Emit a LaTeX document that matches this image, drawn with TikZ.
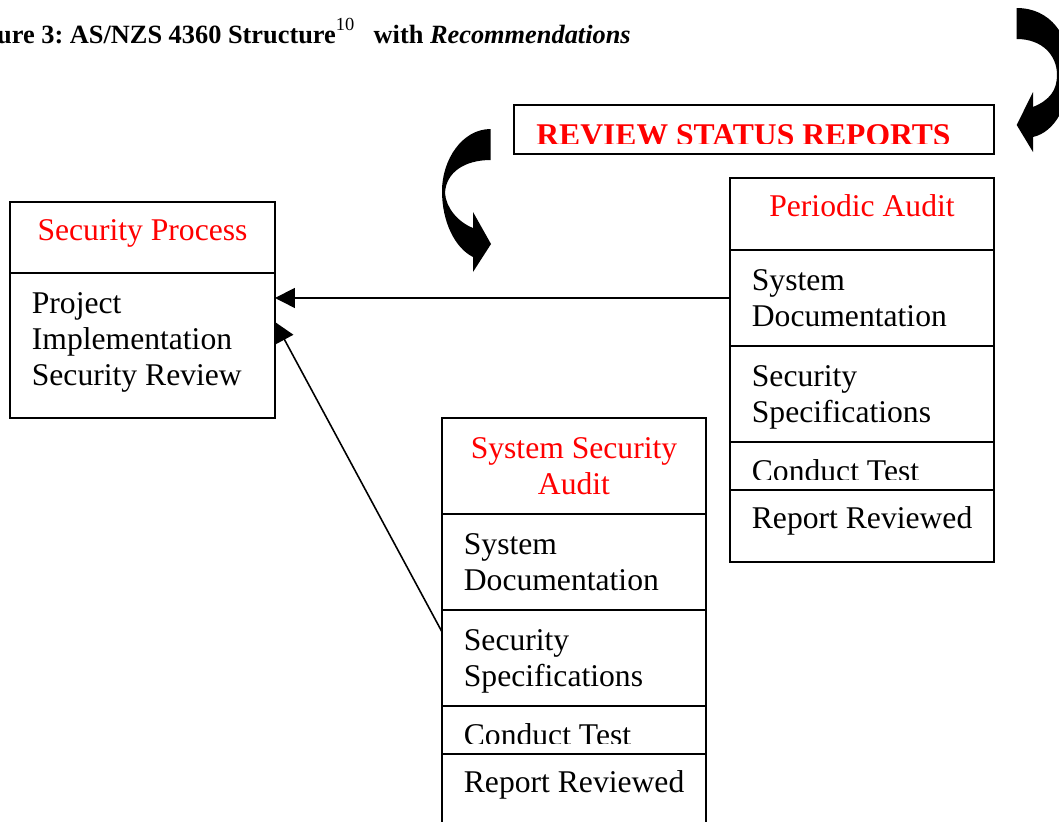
\documentclass[tikz,border=0pt]{standalone}
\usepackage{fontspec}
\setmainfont{Liberation Serif}
\usetikzlibrary{arrows.meta}
\usetikzlibrary{positioning}
\colorlet{headred}{red}
\frenchspacing

\tikzset{
  cell/.style={draw, line width=1.1pt, outer sep=0pt, inner sep=0pt, minimum width=5.28cm},
  txt/.style={font=\fontsize{18}{20.7}\selectfont, inner sep=0pt, anchor=base west, align=left},
  head/.style={font=\fontsize{18}{20.7}\selectfont, text=headred, inner sep=0pt, anchor=base, align=center},
  link/.style={line width=0.9pt, -{Triangle[length=0.4cm,width=0.4cm]}}
}

\begin{document}
\begin{tikzpicture}[x=0.02cm,y=-0.02cm]
		\useasboundingbox (0,0) rectangle (1059,822);

		\node[font=\fontsize{15}{18}\selectfont\bfseries, anchor=base east, inner sep=0pt] (title) at (631,43)
			{Figure 3: AS/NZS 4360 Structure\textsuperscript{\mdseries\raisebox{2pt}{10}}\hspace{0.45em} with \textit{Recommendations}};

		% review box
		\node[cell, minimum width=9.6cm, minimum height=0.98cm, anchor=north west] (rsr) at (514,105) {};
		\begin{scope}
			\clip (rsr.north west) rectangle ([yshift=-0.77cm]rsr.north east);
			\node[txt, font=\fontsize{18}{20.7}\selectfont\bfseries, text=headred] (rsrt)
				at ([shift={(0.44cm,-0.82cm)}]rsr.north west) {REVIEW STATUS REPORTS};
		\end{scope}

		% security process
		\node[cell, minimum width=5.3cm, minimum height=1.42cm, anchor=north] (sp0) at (142.5,202) {};
		\node[cell, minimum width=5.3cm, minimum height=2.9cm, below=0pt of sp0] (sp1) {};
		\node[head] (sp0t) at ([yshift=-0.78cm]sp0.north) {Security Process};
		\node[txt] (sp1t) at ([shift={(0.43cm,-2.26cm)}]sp1.north west) {Project\\Implementation\\Security Review};

		% periodic audit
		\node[cell, minimum height=1.44cm, anchor=north] (pa0) at (862,178) {};
		\node[cell, minimum height=1.92cm, below=0pt of pa0] (pa1) {};
		\node[cell, minimum height=1.92cm, below=0pt of pa1] (pa2) {};
		\node[cell, minimum height=0.96cm, below=0pt of pa2] (pa3) {};
		\node[cell, minimum height=1.44cm, below=0pt of pa3] (pa4) {};
		\node[head] (pa0t) at ([yshift=-0.78cm]pa0.north) {Periodic Audit};
		\node[txt] (pa1t) at ([shift={(0.43cm,-1.53cm)}]pa1.north west) {System\\Documentation};
		\node[txt] (pa2t) at ([shift={(0.43cm,-1.53cm)}]pa2.north west) {Security\\Specifications};
		\begin{scope}
			\clip (pa3.north west) rectangle ([yshift=-0.76cm]pa3.north east);
			\node[txt] (pa3t) at ([shift={(0.43cm,-0.8cm)}]pa3.north west) {Conduct Test};
		\end{scope}
		\node[txt] (pa4t) at ([shift={(0.43cm,-0.78cm)}]pa4.north west) {Report Reviewed};

		% system security audit
		\node[cell, minimum height=1.92cm, anchor=north] (ssa0) at (574,418) {};
		\node[cell, minimum height=1.92cm, below=0pt of ssa0] (ssa1) {};
		\node[cell, minimum height=1.92cm, below=0pt of ssa1] (ssa2) {};
		\node[cell, minimum height=0.96cm, below=0pt of ssa2] (ssa3) {};
		\node[cell, minimum height=1.5cm, below=0pt of ssa3] (ssa4) {};
		\node[head] (ssa0t) at ([yshift=-1.53cm]ssa0.north) {System Security\\Audit};
		\node[txt] (ssa1t) at ([shift={(0.43cm,-1.53cm)}]ssa1.north west) {System\\Documentation};
		\node[txt] (ssa2t) at ([shift={(0.43cm,-1.53cm)}]ssa2.north west) {Security\\Specifications};
		\begin{scope}
			\clip (ssa3.north west) rectangle ([yshift=-0.76cm]ssa3.north east);
			\node[txt] (ssa3t) at ([shift={(0.43cm,-0.8cm)}]ssa3.north west) {Conduct Test};
		\end{scope}
		\node[txt] (ssa4t) at ([shift={(0.43cm,-0.78cm)}]ssa4.north west) {Report Reviewed};

		% links
		\draw[link] (pa1.west) -- (pa1.west -| sp1.east);
		\draw[link] ([yshift=0.52cm]ssa2.west) -- ([yshift=0.47cm]sp1.east);

		% curved arrows
		\fill (490.7,129) .. controls (462,129) and (442,160) .. (442,191)
			.. controls (442,222) and (455,248) .. (473,257) -- (473,272) -- (491,244) -- (473,212) -- (473,228)
			.. controls (458,222) and (446,208) .. (445,193)
			.. controls (446,172) and (465,160) .. (490.7,160) -- cycle;
		\fill (1016.7,8) .. controls (1050,8) and (1070,35) .. (1070,70)
			.. controls (1070,105) and (1055,132) .. (1033,137) -- (1033,152) -- (1016.7,125) -- (1033,92) -- (1033,107)
			.. controls (1050,100) and (1057,90) .. (1057,75)
			.. controls (1057,55) and (1042,39) .. (1016.7,39) -- cycle;
\end{tikzpicture}
\end{document}
